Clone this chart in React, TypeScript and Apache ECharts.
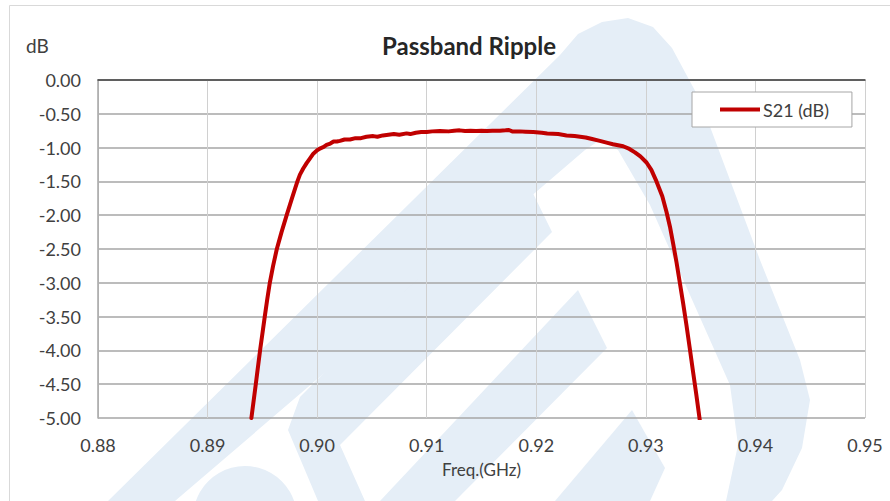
import React, { useEffect, useRef } from "react";
import * as echarts from "echarts";

const freqGHz: number[] = [
  0.894, 0.8944, 0.89479, 0.89522, 0.89544, 0.89568, 0.89598, 0.89632, 0.89675, 0.89722,
  0.8977, 0.898, 0.8982, 0.89843, 0.89873, 0.89904, 0.89935, 0.89965, 0.9, 0.9003, 0.9006,
  0.90086, 0.9012, 0.9015, 0.9018, 0.90208, 0.9025, 0.903, 0.9035, 0.904, 0.9045,
  0.90512, 0.9055, 0.906, 0.9065, 0.907, 0.9075, 0.90816, 0.9085, 0.909, 0.9095,
  0.91, 0.9105, 0.9112, 0.912, 0.9125, 0.913, 0.9135, 0.914, 0.9145, 0.915,
  0.9155, 0.916, 0.91668, 0.9172, 0.9175, 0.9178, 0.9185, 0.919, 0.91972, 0.9205,
  0.921, 0.922, 0.92276, 0.9235, 0.9245, 0.925, 0.9258, 0.9265, 0.927, 0.92793,
  0.9285, 0.929, 0.9295, 0.93006, 0.9305, 0.93097, 0.9315, 0.93188, 0.9322, 0.93249,
  0.9328, 0.9331, 0.9334, 0.9337, 0.934, 0.93431, 0.9346, 0.93492,
];

const s21dB: number[] = [
  -5.0, -4.5, -4.0, -3.5, -3.25, -3.0, -2.75, -2.5, -2.25, -2.0,
  -1.75, -1.6, -1.5, -1.4, -1.31, -1.23, -1.16, -1.09, -1.04, -1.01, -0.99,
  -0.96, -0.94, -0.91, -0.91, -0.9, -0.88, -0.88, -0.86, -0.86, -0.84,
  -0.83, -0.84, -0.82, -0.81, -0.8, -0.81, -0.79, -0.8, -0.78, -0.77,
  -0.77, -0.76, -0.755, -0.76, -0.75, -0.745, -0.755, -0.75, -0.755, -0.75,
  -0.755, -0.75, -0.75, -0.745, -0.74, -0.76, -0.76, -0.765, -0.77, -0.78,
  -0.79, -0.8, -0.82, -0.83, -0.85, -0.87, -0.9, -0.93, -0.95, -0.98,
  -1.02, -1.07, -1.13, -1.22, -1.33, -1.5, -1.72, -1.95, -2.17, -2.42,
  -2.7, -3.0, -3.3, -3.62, -3.96, -4.32, -4.65, -5.03,
];

const seriesName = "S21 (dB)";
const chartTitle = "Passband Ripple";
const yUnit = "dB";
const xName = "Freq.(GHz)";

const FONT = "Lato";
const WM = "#e5eef7";

export default function App() {
  const ref = useRef<HTMLDivElement>(null);
  useEffect(() => {
    if (!ref.current) return;
    const chart = echarts.init(ref.current, null, { renderer: "svg" });
    const data = freqGHz.map((f, i) => [f, s21dB[i]]);
    const poly = (points: number[][]) => ({
      type: "polygon",
      z: -10,
      silent: true,
      shape: { points },
      style: { fill: WM },
    });
    chart.setOption({
      animation: false,
      backgroundColor: "#ffffff",
      textStyle: { fontFamily: FONT },
      graphic: [
        poly([
          [108, 501], [560, 55], [578, 34], [602, 22], [628, 18], [653, 27], [672, 48],
          [700, 100], [760, 260], [800, 360], [810, 400], [802, 448], [782, 490], [772, 501],
          [726, 501], [738, 445], [730, 385], [650, 205], [618, 150], [600, 140], [585, 150],
          [175, 501],
        ]),
        poly([[300, 397], [523, 173], [552, 232], [340, 445], [365, 501], [318, 501], [288, 430]]),
        poly([[380, 501], [578, 290], [607, 348], [455, 501]]),
        poly([[555, 501], [632, 410], [665, 468], [650, 501]]),
        {
          type: "circle",
          z: -10,
          silent: true,
          shape: { cx: 245, cy: 518, r: 52 },
          style: { fill: WM },
        },
        {
          type: "rect",
          z: -5,
          silent: true,
          shape: { x: 9.5, y: 5.5, width: 900, height: 520 },
          style: { fill: "none", stroke: "#d9d9d9", lineWidth: 1 },
        },
        {
          type: "text",
          x: 469,
          y: 45,
          style: {
            text: chartTitle,
            font: `bold 24px ${FONT}`,
            fill: "#262626",
            textAlign: "center",
            textVerticalAlign: "middle",
            verticalAlign: "middle",
          },
        },
        {
          type: "text",
          x: 26,
          y: 45,
          style: {
            text: yUnit,
            font: `19px ${FONT}`,
            fill: "#404040",
            textAlign: "left",
            textVerticalAlign: "middle",
            verticalAlign: "middle",
          },
        },
      ],
      grid: { left: 98, top: 80, width: 767, height: 338, containLabel: false },
      legend: {
        left: 692,
        top: 92,
        padding: [8, 23, 8, 28],
        backgroundColor: "#ffffff",
        borderColor: "#a6a6a6",
        borderWidth: 1,
        borderRadius: 0,
        itemWidth: 40,
        itemHeight: 4,
        itemGap: 5,
        icon: "rect",
        data: [seriesName],
        textStyle: { fontFamily: FONT, fontSize: 18, color: "#404040", lineHeight: 19, padding: [0, 0, 0, -2] },
      },
      xAxis: [
        {
          type: "value",
          min: 0.88,
          max: 0.95,
          interval: 0.01,
          position: "bottom",
          name: xName,
          nameLocation: "middle",
          nameGap: 43,
          nameTextStyle: { fontFamily: FONT, fontSize: 17, color: "#404040" },
          axisLine: { show: false, onZero: false },
          axisTick: { show: false },
          axisLabel: {
            fontFamily: FONT,
            fontSize: 18,
            color: "#404040",
            margin: 18,
            formatter: (v: number) => v.toFixed(2),
          },
          splitLine: { show: true, lineStyle: { color: "#d0d0d0", width: 1 } },
        },
        {
          type: "value",
          min: 0.88,
          max: 0.95,
          interval: 0.01,
          position: "top",
          axisLine: { show: true, onZero: false, lineStyle: { color: "#404040", width: 1.5 } },
          axisTick: { show: false },
          axisLabel: { show: false },
          splitLine: { show: false },
        },
      ],
      yAxis: {
        type: "value",
        min: -5,
        max: 0,
        interval: 0.5,
        axisLine: { show: true, lineStyle: { color: "#a6a6a6", width: 1.5 } },
        axisTick: { show: false },
        axisLabel: {
          fontFamily: FONT,
          fontSize: 18,
          color: "#404040",
          margin: 17,
          formatter: (v: number) => v.toFixed(2),
        },
        splitLine: { show: true, lineStyle: { color: "#a6a6a6", width: 1.5 } },
      },
      series: [
        {
          name: seriesName,
          type: "line",
          xAxisIndex: 0,
          data,
          symbol: "none",
          showSymbol: false,
          color: "#c00000",
          lineStyle: { color: "#c00000", width: 4, cap: "round", join: "round" },
          z: 5,
        },
      ],
    });
    return () => chart.dispose();
  }, []);
  return (
    <div
      ref={ref}
      style={{ position: "absolute", left: 0, top: 0, width: 890, height: 501 }}
    />
  );
}
